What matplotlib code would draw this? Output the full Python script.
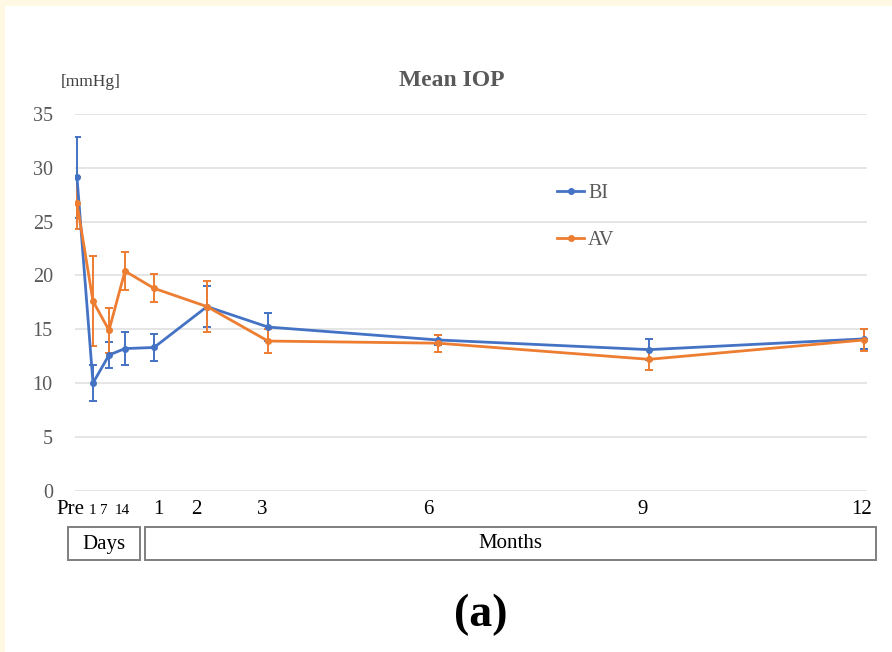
import matplotlib
matplotlib.use("Agg")
import matplotlib.pyplot as plt
from matplotlib.lines import Line2D
from matplotlib.patches import Rectangle

# time points and where they sit along the (uneven) time axis
time_points = ["Pre", "D1", "D7", "D14", "M1", "M2", "M3", "M6", "M9", "M12"]
x_pos = [77, 93, 109, 125, 154, 207, 268, 438, 649, 864]

bi_mean = [29.1, 10.0, 12.6, 13.2, 13.3, 17.1, 15.2, 14.0, 13.1, 14.1]
bi_err = [3.8, 1.7, 1.2, 1.5, 1.3, 1.9, 1.3, 0.5, 1.0, 0.9]
av_mean = [26.7, 17.6, 14.9, 20.4, 18.8, 17.1, 13.9, 13.7, 12.2, 14.0]
av_err = [2.4, 4.2, 2.1, 1.8, 1.3, 2.4, 1.1, 0.8, 1.0, 1.0]

day_labels = ["1", "7", "14"]
day_label_pos = [92, 104, 122]
month_labels = ["1", "2", "3", "6", "9", "12"]
month_label_pos = [158, 196, 262, 428, 643, 862]

BLUE = "#4472C4"
ORANGE = "#ED7D31"
GRAY = "#595959"
SERIF = "Liberation Serif"

W, H = 892, 652
fig = plt.figure(figsize=(W / 100, H / 100), dpi=100)
fig.patch.set_facecolor("white")


def fx(px):
    return px / W


def fy(py):
    return 1 - py / H


# cream page border
cream = "#FFF9E3"
fig.patches.append(Rectangle((0, fy(6)), 1, 6 / H, transform=fig.transFigure,
                             facecolor=cream, edgecolor="none", zorder=0))
fig.patches.append(Rectangle((0, 0), fx(5), 1, transform=fig.transFigure,
                             facecolor=cream, edgecolor="none", zorder=0))

ax = fig.add_axes([fx(75), fy(490.6), fx(867) - fx(75), fy(114) - fy(490.6)])
ax.set_xlim(75, 867)
ax.set_ylim(0, 35)
for s in ax.spines.values():
    s.set_visible(False)
ax.set_yticks(range(0, 36, 5))
ax.yaxis.grid(True, color="#E3E3E3", linewidth=1.3)
ax.set_axisbelow(True)
ax.tick_params(axis="y", length=0, pad=16, labelsize=14.5, labelcolor=GRAY)
for lbl in ax.get_yticklabels():
    lbl.set_fontfamily(SERIF)
ax.set_xticks([])

for mean, err, col in [(bi_mean, bi_err, BLUE), (av_mean, av_err, ORANGE)]:
    ax.errorbar(x_pos, mean, yerr=err, color=col, linewidth=2.0, marker="o",
                markersize=4, elinewidth=1.4, capsize=3, capthick=1.4, zorder=3)

handles = [Line2D([], [], color=BLUE, linewidth=2.0, marker="o", markersize=4),
           Line2D([], [], color=ORANGE, linewidth=2.0, marker="o", markersize=4)]
leg = ax.legend(handles, ["BI", "AV"], loc="upper left",
                bbox_to_anchor=(fx(557), fy(184)), bbox_transform=fig.transFigure,
                frameon=False, handlelength=1.35, handletextpad=0.2,
                labelspacing=1.4, borderpad=0, borderaxespad=0,
                prop={"family": SERIF, "size": 14.5})
for t in leg.get_texts():
    t.set_color(GRAY)

# titles
fig.text(fx(452), fy(80), "Mean IOP", ha="center", va="center", fontsize=17,
         fontweight="bold", color=GRAY, family=SERIF)
fig.text(fx(61), fy(82), "[mmHg]", ha="left", va="center", fontsize=12.5,
         color="#404040", family=SERIF)

# x labels
fig.text(fx(70), fy(510), "Pre", ha="center", va="center", fontsize=15,
         color="black", family=SERIF)
for lab, p in zip(day_labels, day_label_pos):
    fig.text(fx(p), fy(511), lab, ha="center", va="center", fontsize=11,
             color="black", family=SERIF)
for lab, p in zip(month_labels, month_label_pos):
    fig.text(fx(p), fy(509), lab, ha="center", va="center", fontsize=15,
             color="black", family=SERIF)

# Days / Months boxes
for x0, x1, lab in [(68, 140, "Days"), (145, 876, "Months")]:
    fig.patches.append(Rectangle((fx(x0), fy(560)), fx(x1) - fx(x0), fy(527) - fy(560),
                                 transform=fig.transFigure, facecolor="white",
                                 edgecolor="#7F7F7F", linewidth=1.4))
    fig.text(fx((x0 + x1) / 2), fy(544), lab, ha="center", va="center",
             fontsize=15, color="black", family=SERIF)

fig.text(fx(481), fy(615), "(a)", ha="center", va="center", fontsize=33,
         fontweight="bold", color="black", family=SERIF)

fig.savefig("out.png", dpi=100)
